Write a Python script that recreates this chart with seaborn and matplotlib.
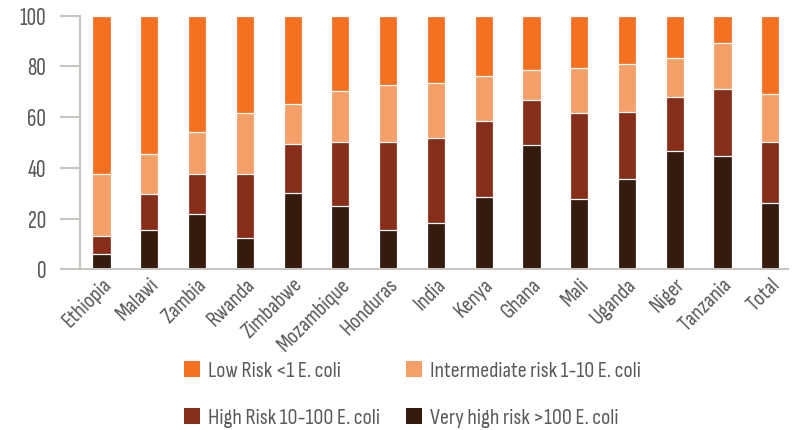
import matplotlib
matplotlib.use("Agg")
import matplotlib.pyplot as plt
from matplotlib.patches import Patch
import seaborn as sns
import pandas as pd

categories = ["Ethiopia", "Malawi", "Zambia", "Rwanda", "Zimbabwe", "Mozambique",
              "Honduras", "India", "Kenya", "Ghana", "Mali", "Uganda", "Niger",
              "Tanzania", "Total"]
very_high = [6.0, 15.5, 21.7, 12.2, 30.2, 25.1, 15.5, 18.1, 28.6, 48.9, 27.7, 35.6, 46.5, 44.7, 26.3]
high      = [7.3, 14.2, 15.8, 25.3, 19.2, 25.0, 34.6, 33.8, 29.8, 17.9, 33.8, 26.4, 21.4, 26.4, 23.8]
intermed  = [24.2, 15.6, 16.8, 24.0, 15.7, 20.3, 22.6, 21.7, 17.8, 11.9, 18.0, 19.1, 15.5, 18.1, 19.0]
low       = [62.5, 54.7, 45.7, 38.5, 34.9, 29.6, 27.3, 26.4, 23.8, 21.3, 20.5, 18.9, 16.6, 10.8, 30.9]
series_names = ["Very high risk >100 E. coli", "High Risk 10-100 E. coli",
                "Intermediate risk 1-10 E. coli", "Low Risk <1 E. coli"]
yticks = [0, 20, 40, 60, 80, 100]

colors = {"Low Risk <1 E. coli": "#F47121",
          "Intermediate risk 1-10 E. coli": "#F5A068",
          "High Risk 10-100 E. coli": "#872E1A",
          "Very high risk >100 E. coli": "#351A0E"}

sns.set_style("white")
plt.rcParams['font.family'] = ['Sofia Sans Condensed', 'DejaVu Sans']
txt_color = "#5a5a5a"
spine_color = "#C9C4BD"

df = pd.DataFrame({"country": categories,
                   series_names[0]: very_high, series_names[1]: high,
                   series_names[2]: intermed, series_names[3]: low})
cum = df[series_names].cumsum(axis=1)

fig = plt.figure(figsize=(7.96, 4.30), dpi=100)
ax = fig.add_axes([80/796, 1 - 269.3/430, (788-80)/796, (269.3-15.7)/430])

# draw from the top layer down
for name in reversed(series_names):
    sns.barplot(x=df["country"], y=cum[name], color=colors[name], saturation=1,
                width=0.38, edgecolor="white", linewidth=0.9, ax=ax)

ax.set_xlim(-0.45, 14.37)
ax.set_ylim(0, 100)
ax.set_yticks(yticks)
ax.set_xlabel("")
ax.set_ylabel("")
for s in ["top", "right"]:
    ax.spines[s].set_visible(False)
for s in ["left", "bottom"]:
    ax.spines[s].set_color(spine_color)
    ax.spines[s].set_linewidth(1.5)
ax.tick_params(axis="y", length=14.4, width=1.5, color=spine_color,
               labelsize=19, labelcolor=txt_color, pad=10, left=True)
for t in ax.get_yticklabels():
    t.set_family(['Sofia Sans Extra Condensed', 'DejaVu Sans'])
ax.tick_params(axis="x", length=0, labelsize=16, labelcolor=txt_color, pad=4)
plt.setp(ax.get_xticklabels(), rotation=45, ha="right", rotation_mode="anchor")

order = ["Low Risk <1 E. coli", "High Risk 10-100 E. coli",
         "Intermediate risk 1-10 E. coli", "Very high risk >100 E. coli"]
leg_handles = [Patch(facecolor=colors[n], edgecolor="none") for n in order]
leg = fig.legend(leg_handles, order, ncol=2, loc="center",
                 bbox_to_anchor=(0.518, 0.0826), frameon=False, fontsize=16,
                 handlelength=0.72, handleheight=0.72, handletextpad=0.36,
                 columnspacing=1.15, labelspacing=1.2)
for t in leg.get_texts():
    t.set_color(txt_color)

fig.savefig("out.png", dpi=100)
